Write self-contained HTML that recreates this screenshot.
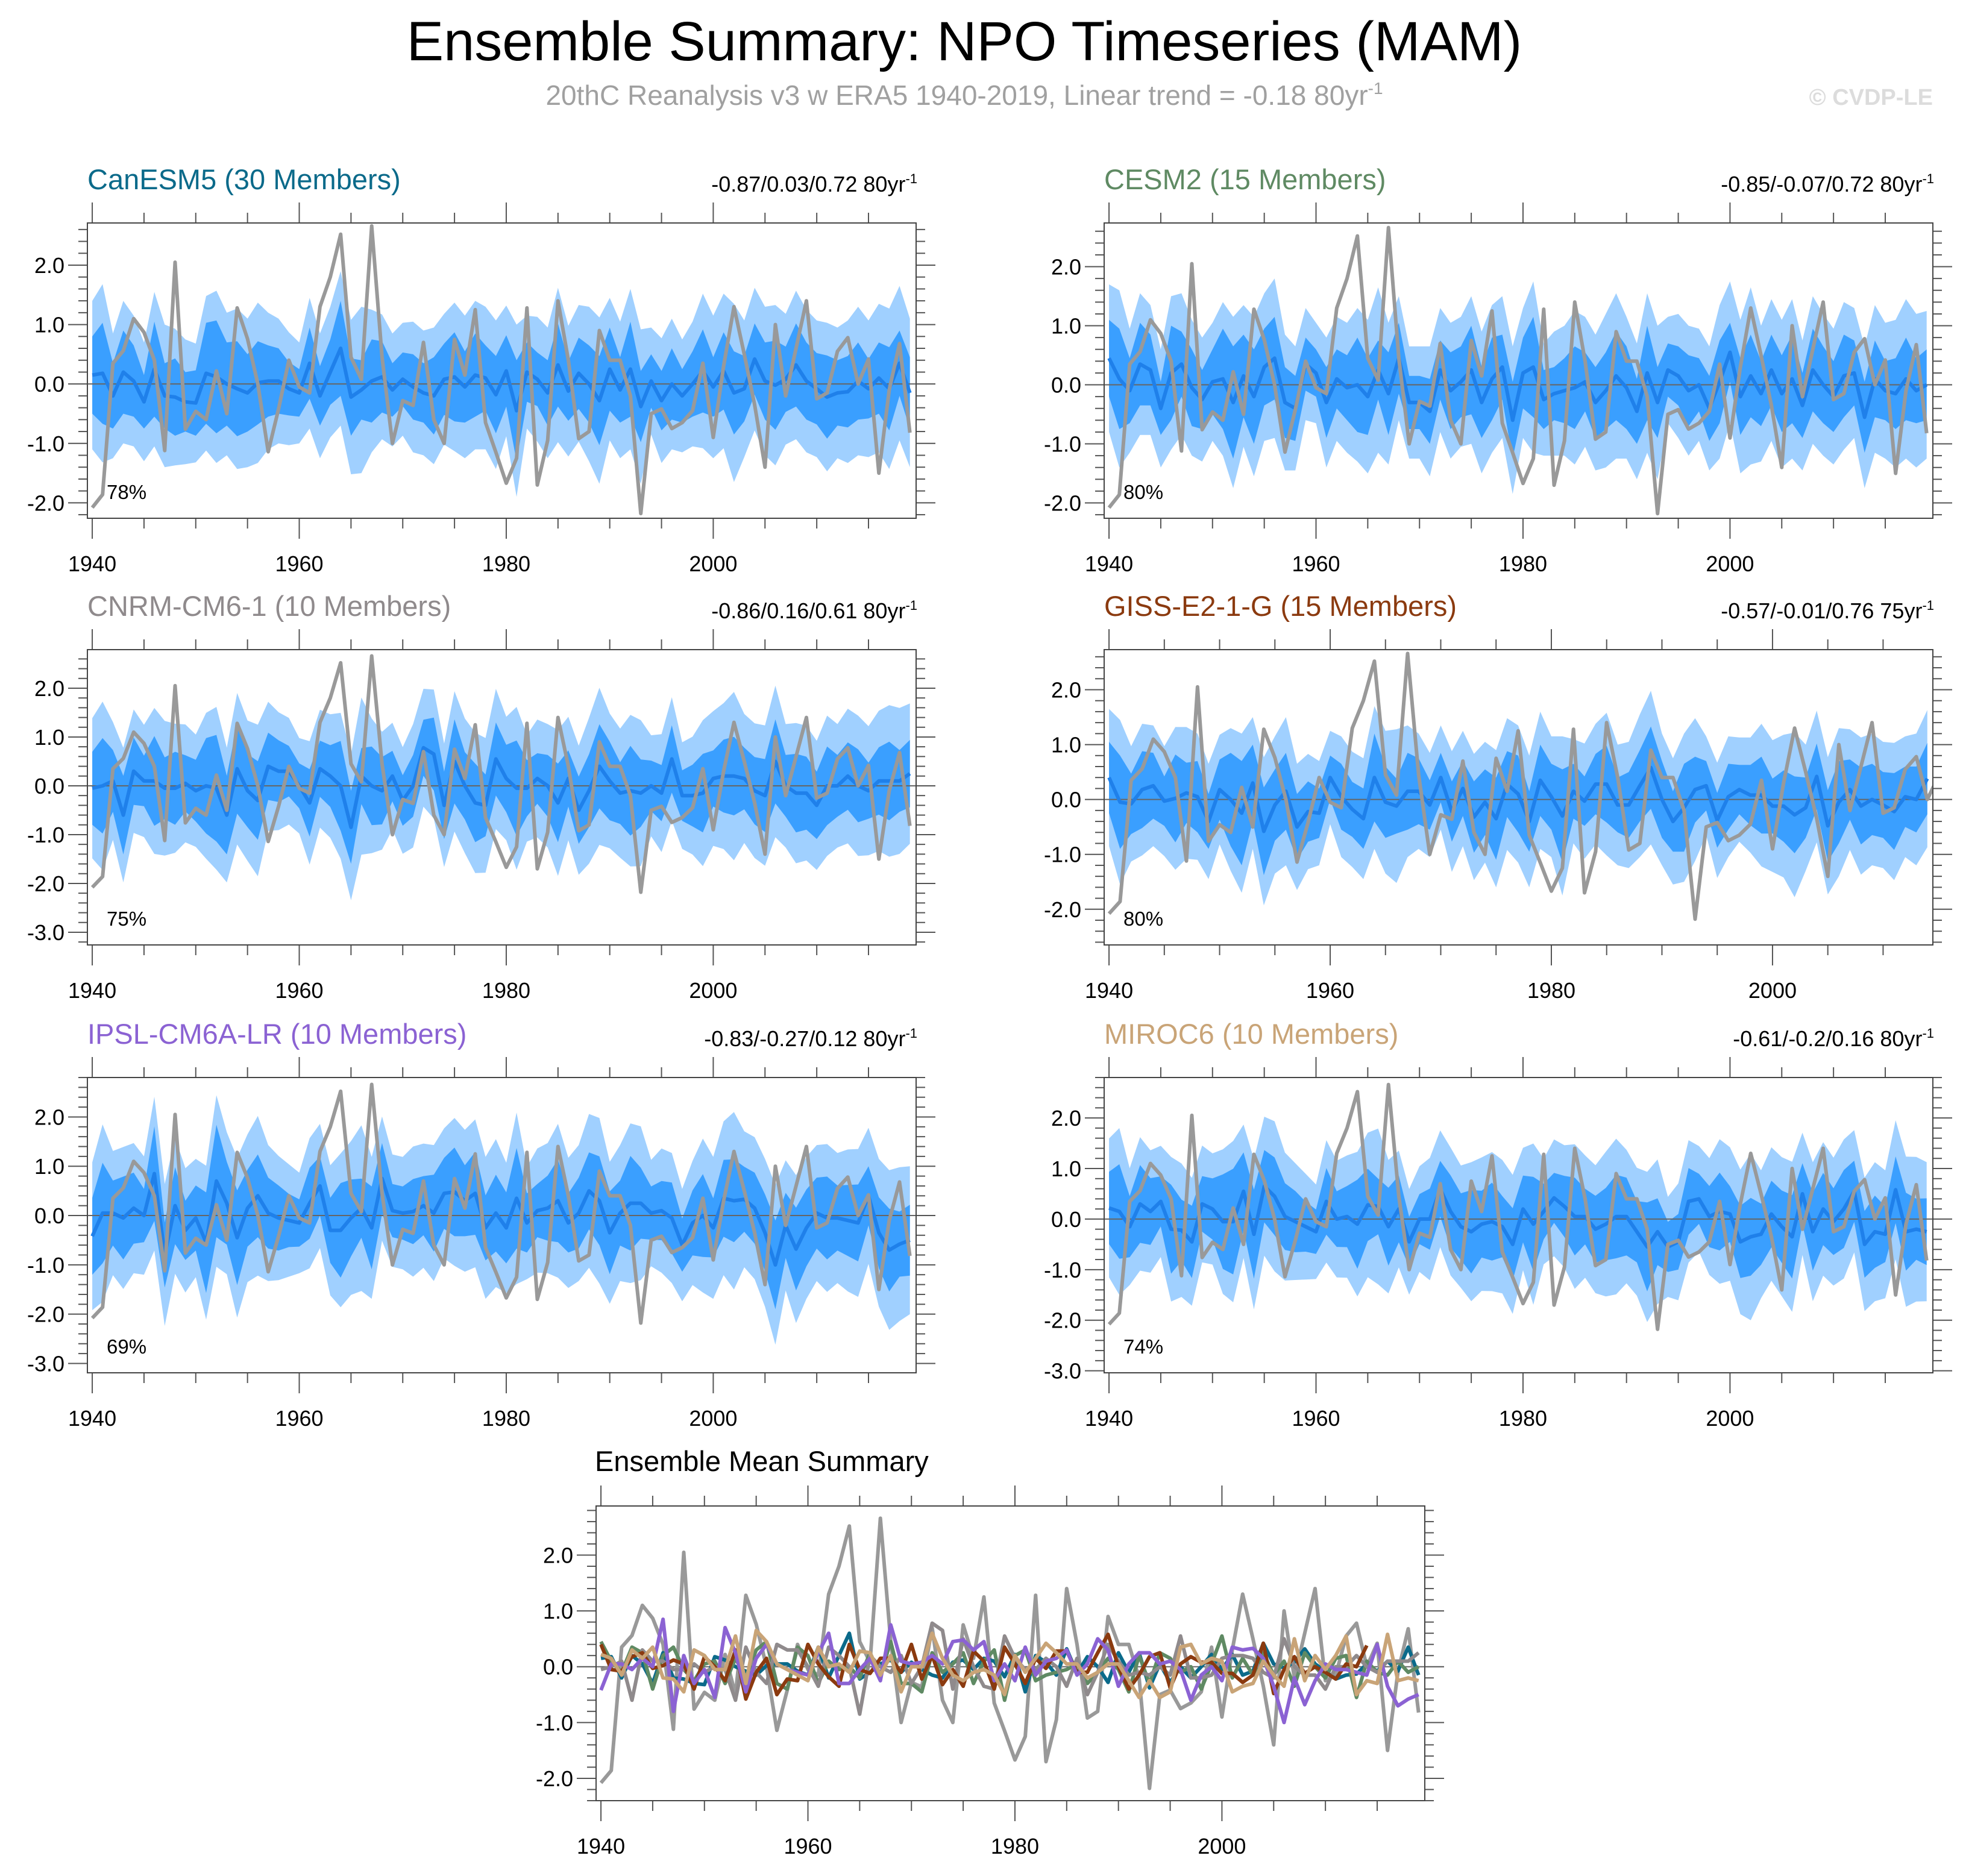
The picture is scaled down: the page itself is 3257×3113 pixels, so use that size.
<!DOCTYPE html>
<html><head><meta charset="utf-8">
<style>
html,body{margin:0;padding:0;background:#fff;}
svg{display:block;font-family:"Liberation Sans",sans-serif;}
</style></head>
<body>
<svg id="chart" width="3257" height="3113" viewBox="0 0 3257 3113" xmlns="http://www.w3.org/2000/svg">
<text x="1600" y="100" font-size="92" text-anchor="middle" fill="#000">Ensemble Summary: NPO Timeseries (MAM)</text>
<text x="1600" y="174" font-size="46" text-anchor="middle" fill="#a0a0a0">20thC Reanalysis v3 w ERA5 1940-2019, Linear trend = -0.18 80yr<tspan dy="-18" font-size="28">-1</tspan></text>
<text x="3207" y="174" font-size="38" font-weight="bold" text-anchor="end" fill="#dcdcdc">© CVDP-LE</text>
<g id="panels"></g>
</svg>
<script>
// ---- data ----
const years = [];
for (let y = 1940; y <= 2019; y++) years.push(y);
const obs = [-2.08,-1.86,0.35,0.56,1.10,0.87,0.40,-1.12,2.05,-0.76,-0.46,-0.60,0.22,-0.50,1.28,0.76,0.00,-1.14,-0.42,0.40,-0.05,-0.15,1.30,1.80,2.52,0.45,0.08,2.66,0.45,-1.00,-0.28,-0.36,0.70,-0.60,-1.00,0.75,0.15,1.25,-0.65,-1.15,-1.67,-1.25,1.28,-1.70,-0.95,1.40,0.40,-0.92,-0.80,0.90,0.40,0.40,-0.20,-2.18,-0.50,-0.42,-0.75,-0.65,-0.45,0.35,-0.90,0.30,1.30,0.50,-0.35,-1.40,1.00,-0.20,0.60,1.40,-0.25,-0.15,0.55,0.78,0.00,0.42,-1.50,-0.10,0.68,-0.82];
const meanCanESM5 = [0.15,0.18,-0.20,0.20,0.05,-0.30,0.25,-0.20,-0.22,-0.30,-0.32,0.18,0.12,0.00,-0.08,-0.15,0.02,0.05,0.05,-0.08,-0.15,0.35,-0.20,0.20,0.60,-0.22,-0.10,0.05,0.12,-0.10,0.08,-0.05,-0.15,-0.20,0.08,0.12,-0.05,0.15,0.10,-0.18,0.22,-0.45,0.20,0.08,-0.15,0.32,-0.12,0.18,0.00,-0.28,0.25,-0.10,0.25,-0.38,0.05,-0.28,0.00,-0.20,0.00,0.22,-0.05,0.22,-0.15,-0.08,0.42,0.05,-0.02,0.08,0.32,0.05,-0.08,-0.22,-0.15,-0.13,0.05,-0.08,0.10,-0.08,0.35,-0.15];
const meanCESM2 = [0.45,0.10,-0.10,0.35,0.25,-0.40,0.20,0.35,-0.05,-0.25,0.05,0.10,-0.30,0.15,-0.20,0.30,0.45,-0.30,-0.40,0.35,0.20,-0.30,0.10,-0.05,0.00,-0.20,0.25,-0.15,0.45,-0.30,-0.30,-0.45,0.25,-0.10,0.05,0.25,-0.30,0.10,0.30,-0.60,0.20,0.30,-0.25,-0.15,-0.10,-0.05,0.05,-0.30,-0.10,0.15,-0.05,-0.45,0.20,-0.30,0.25,0.15,-0.10,0.00,-0.40,0.05,0.55,-0.20,0.15,-0.15,0.25,-0.15,0.10,-0.35,0.25,0.00,-0.20,0.15,0.20,-0.55,0.10,-0.10,-0.15,0.10,-0.10,0.00];
const meanCNRM = [-0.05,0.00,0.10,-0.60,0.30,0.10,0.10,-0.05,-0.05,0.05,-0.10,0.00,-0.05,-0.60,0.35,-0.10,-0.30,0.40,0.30,0.30,0.00,-0.35,0.35,0.20,0.00,-0.85,0.20,0.00,-0.10,0.20,-0.30,0.00,0.78,0.65,-0.40,0.50,0.00,-0.35,-0.40,0.55,0.15,-0.05,-0.05,0.15,0.00,-0.35,0.15,-0.50,-0.10,0.40,0.10,-0.15,-0.10,-0.15,0.00,-0.15,0.55,-0.20,-0.20,-0.15,0.15,0.20,0.20,0.15,-0.10,-0.20,0.50,0.00,-0.15,-0.15,-0.40,0.00,0.00,0.20,0.00,-0.10,0.10,0.10,0.10,0.25];
const meanGISS = [0.40,-0.05,-0.08,0.18,0.25,-0.03,0.02,0.12,0.05,-0.40,0.18,0.00,-0.25,0.30,-0.58,-0.10,0.15,-0.50,-0.22,-0.25,0.40,0.05,-0.18,-0.35,0.40,-0.05,-0.12,0.15,0.15,-0.10,0.40,-0.22,0.20,-0.32,-0.05,-0.35,0.28,0.10,-0.40,0.35,0.05,-0.30,0.15,-0.03,0.28,0.28,-0.10,-0.10,0.25,0.58,0.00,-0.40,-0.15,0.18,0.25,-0.38,0.05,0.18,0.08,0.08,-0.12,-0.12,-0.28,-0.15,0.42,-0.48,-0.05,0.18,-0.12,0.00,-0.10,-0.22,0.05,0.00,0.38];
const meanIPSL = [-0.42,0.05,0.05,-0.05,0.15,0.00,0.85,-0.80,0.20,-0.30,-0.05,-0.55,0.70,0.25,-0.45,0.15,0.40,0.05,-0.05,-0.10,-0.15,0.25,0.60,-0.30,-0.30,-0.05,0.15,-0.25,0.75,0.10,0.05,0.08,0.20,0.05,0.45,0.48,0.30,0.45,-0.25,0.05,-0.25,0.35,-0.15,0.10,0.15,0.30,-0.15,0.05,0.50,0.30,-0.35,0.05,0.25,0.25,0.05,0.10,-0.05,-0.60,-0.15,0.00,-0.25,0.35,0.30,0.33,0.15,-0.35,-1.00,-0.20,-0.68,-0.25,0.05,-0.05,-0.05,-0.10,-0.15,0.40,-0.35,-0.70,-0.58,-0.50];
const meanMIROC6 = [0.22,0.15,-0.15,0.30,0.15,0.35,-0.20,-0.22,-0.45,0.30,0.20,-0.05,-0.05,0.55,-0.30,0.65,0.45,0.05,-0.05,-0.15,-0.25,0.35,0.00,0.05,-0.10,0.28,0.25,-0.15,0.20,-0.45,0.00,0.00,0.60,0.15,-0.15,-0.25,-0.10,-0.05,-0.15,-0.50,0.20,-0.10,0.15,0.42,0.25,0.05,0.05,-0.20,-0.10,0.05,0.05,-0.25,-0.55,-0.25,-0.55,-0.45,0.35,0.40,0.05,0.15,0.10,-0.45,-0.35,-0.30,0.10,-0.15,-0.35,0.50,-0.25,0.20,-0.05,0.20,0.55,-0.50,-0.25,-0.30,0.58,-0.25,-0.20,-0.25];
const innerSpread = [0.65,0.85,0.55,0.70,0.60,0.45,0.80,0.55,0.65,0.50,0.55,0.85,0.95,0.70,0.80,0.65,0.70,0.60,0.55,0.45,0.40,0.60,0.50,0.55,0.80,0.65,0.50,0.70,0.60,0.45,0.45,0.55,0.50,0.65,0.60,0.75,0.60,0.70,0.55,0.65,0.60,0.85,0.50,0.45,0.55,0.70,0.50,0.60,0.65,0.75,0.70,0.55,0.80,0.60,0.45,0.50,0.60,0.45,0.55,0.70,0.50,0.65,0.70,0.55,0.60,0.65,0.75,0.55,0.70,0.65,0.60,0.70,0.55,0.60,0.65,0.50,0.60,0.70,0.55,0.60];
const outerSpread = [1.25,1.50,1.05,1.20,1.10,1.00,1.30,1.20,1.15,1.05,1.00,1.30,1.45,1.20,1.35,1.25,1.35,1.15,1.05,0.95,0.85,1.10,1.05,1.10,1.30,1.30,1.40,1.20,1.05,0.95,0.95,1.10,1.05,1.15,1.10,1.25,1.20,1.25,1.20,1.25,1.10,1.45,0.95,1.05,1.10,1.30,1.10,1.15,1.30,1.40,1.20,1.15,1.35,1.30,0.90,1.05,1.10,0.95,1.05,1.30,1.20,1.30,1.50,1.15,1.20,1.25,1.35,1.10,1.25,1.20,1.15,1.25,1.10,1.20,1.25,1.15,1.25,1.35,1.30,1.25];
const modelNames = ["CanESM5 (30 Members)","CESM2 (15 Members)","CNRM-CM6-1 (10 Members)","GISS-E2-1-G (15 Members)","IPSL-CM6A-LR (10 Members)","MIROC6 (10 Members)"];
const trendLabels = ["-0.87/0.03/0.72 80yr","-0.85/-0.07/0.72 80yr","-0.86/0.16/0.61 80yr","-0.57/-0.01/0.76 75yr","-0.83/-0.27/0.12 80yr","-0.61/-0.2/0.16 80yr"];
const pctLabels = ["78%","80%","75%","80%","69%","74%"];
const spreadScale = [1.0,1.0,1.15,1.0,1.2,1.1];
const yTickValues = [-3,-2,-1,0,1,2];
const xTickYears = [1940,1960,1980,2000];

const means = [meanCanESM5,meanCESM2,meanCNRM,meanGISS,meanIPSL,meanMIROC6];
const modelColors = ["#0b6a8a","#5f8a63","#8f8a8c","#8b3a0f","#8b62d3","#c9a477"];

// layout (not data)
const panels = [
 {l:145,r:1520,t:370,b:860,ymin:-2.26,ymax:2.71,xmin:1939.53,xmax:2019.6},
 {l:1832,r:3207,t:370,b:860,ymin:-2.26,ymax:2.74,xmin:1939.53,xmax:2019.6},
 {l:145,r:1520,t:1078,b:1568,ymin:-3.26,ymax:2.79,xmin:1939.53,xmax:2019.6},
 {l:1832,r:3207,t:1078,b:1568,ymin:-2.65,ymax:2.73,xmin:1939.56,xmax:2014.5},
 {l:145,r:1520,t:1788,b:2278,ymin:-3.19,ymax:2.80,xmin:1939.53,xmax:2019.6},
 {l:1832,r:3207,t:1788,b:2278,ymin:-3.04,ymax:2.80,xmin:1939.53,xmax:2019.6}
];
const summary = {l:989,r:2364,t:2499,b:2988,ymin:-2.40,ymax:2.88,xmin:1939.53,xmax:2019.6};

const NS = "http://www.w3.org/2000/svg";
const root = document.getElementById('panels');
function mk(tag, attrs, parent) {
  const e = document.createElementNS(NS, tag);
  for (const k in attrs) e.setAttribute(k, attrs[k]);
  parent.appendChild(e);
  return e;
}
function axes(p) {
  const xs = v => p.l + (v - p.xmin) / (p.xmax - p.xmin) * (p.r - p.l);
  const ys = v => p.b - (v - p.ymin) / (p.ymax - p.ymin) * (p.b - p.t);
  return {xs, ys};
}
let clipId = 0;
function drawFrame(p, g, idx) {
  const {xs, ys} = axes(p);
  const tg = mk('g', {stroke:'#555', 'stroke-width':2}, g);
  
  
  for (let y = 1940; y <= p.xmax; y += 5) {
    const major = (y % 20 === 0);
    const len = major ? 34 : 17;
    const x = xs(y);
    mk('line', {x1:x, x2:x, y1:p.t, y2:p.t - len}, tg);
    mk('line', {x1:x, x2:x, y1:p.b, y2:p.b + len}, tg);
  }
  for (let k = Math.ceil(p.ymin * 5); k <= Math.floor(p.ymax * 5); k++) {
    const v = k / 5; const major = (k % 5 === 0);
    const len = major ? 32 : 15; const y = ys(v);
    mk('line', {x1:p.l, x2:p.l - len, y1:y, y2:y}, tg);
    mk('line', {x1:p.r, x2:p.r + len, y1:y, y2:y}, tg);
  }
  yTickValues.forEach(v => {
    if (v < p.ymin || v > p.ymax) return;
    const t = mk('text', {x:p.l - 38, y:ys(v) + 13, 'font-size':36, 'text-anchor':'end', fill:'#000'}, g);
    
    
    t.textContent = v.toFixed(1);
  });
  xTickYears.forEach(v => {
    const t = mk('text', {x:xs(v), y:p.b + 88, 'font-size':36, 'text-anchor':'middle', fill:'#000'}, g);
    
    
    t.textContent = v;
  });
  const cid = 'clip' + (clipId++);
  const cp = mk('clipPath', {id:cid}, g);
  mk('rect', {x:p.l, y:p.t, width:p.r - p.l, height:p.b - p.t}, cp);
  return {xs, ys, cid};
}
function poly(pts) { return pts.map(q => q[0].toFixed(1) + ',' + q[1].toFixed(1)).join(' '); }

panels.forEach((p, i) => {
  const g = mk('g', {}, root);
  
  
  const {xs, ys, cid} = drawFrame(p, g, i);
  const m = means[i];
  const n = m.length;
  const dg = mk('g', {'clip-path':'url(#' + cid + ')'}, g);
  const bandPts = (sp) => {
    const up = [], lo = [];
    for (let k = 0; k < n; k++) {
      const s = sp[k] * spreadScale[i];
      up.push([xs(years[k]), ys(m[k] + s)]);
      lo.push([xs(years[k]), ys(m[k] - s)]);
    }
    return poly(up.concat(lo.reverse()));
  };
  const ob = mk('polygon', {points:bandPts(outerSpread), fill:'#a0d0ff'}, dg);
  
  
  const ib = mk('polygon', {points:bandPts(innerSpread), fill:'#3a9fff'}, dg);
  
  
  mk('line', {x1:p.l, x2:p.r, y1:ys(0), y2:ys(0), stroke:'#666', 'stroke-width':2}, dg);
  const ml = mk('polyline', {points:poly(m.map((v, k) => [xs(years[k]), ys(v)])), fill:'none', stroke:'#1f80ea', 'stroke-width':6, 'stroke-linejoin':'round'}, dg);
  
  
  const ol = mk('polyline', {points:poly(obs.map((v, k) => [xs(years[k]), ys(v)])), fill:'none', stroke:'#999', 'stroke-width':6, 'stroke-linejoin':'round'}, dg);
  
  
  const fr = mk('rect', {x:p.l, y:p.t, width:p.r - p.l, height:p.b - p.t, fill:'none', stroke:'#444', 'stroke-width':2}, g);
  
  
  const tt = mk('text', {x:p.l, y:p.t - 56, 'font-size':47, fill:modelColors[i]}, g);
  
  
  tt.textContent = modelNames[i];
  const tr = mk('text', {x:p.r + 2, y:p.t - 52, 'font-size':36, 'text-anchor':'end', fill:'#000'}, g);
  
  
  tr.textContent = trendLabels[i];
  const sup = mk('tspan', {dy:-14, 'font-size':22}, tr);
  sup.textContent = '-1';
  const pc = mk('text', {x:p.l + 32, y:p.b - 32, 'font-size':33, fill:'#000'}, g);
  
  
  pc.textContent = pctLabels[i];
});

(function(){
  const p = summary;
  const g = mk('g', {}, root);
  
  
  const {xs, ys, cid} = drawFrame(p, g, 6);
  const dg = mk('g', {'clip-path':'url(#' + cid + ')'}, g);
  mk('line', {x1:p.l, x2:p.r, y1:ys(0), y2:ys(0), stroke:'#666', 'stroke-width':2}, dg);
  const ol = mk('polyline', {points:poly(obs.map((v, k) => [xs(years[k]), ys(v)])), fill:'none', stroke:'#999', 'stroke-width':6, 'stroke-linejoin':'round'}, dg);
  
  
  means.forEach((m, i) => {
    const l = mk('polyline', {points:poly(m.map((v, k) => [xs(years[k]), ys(v)])), fill:'none', stroke:modelColors[i], 'stroke-width':6, 'stroke-linejoin':'round'}, dg);
    
    
  });
  const fr = mk('rect', {x:p.l, y:p.t, width:p.r - p.l, height:p.b - p.t, fill:'none', stroke:'#444', 'stroke-width':2}, g);
  
  
  const tt = mk('text', {x:p.l - 2, y:p.t - 58, 'font-size':47, fill:'#000'}, g);
  
  
  tt.textContent = 'Ensemble Mean Summary';
})();
</script>
</body></html>
